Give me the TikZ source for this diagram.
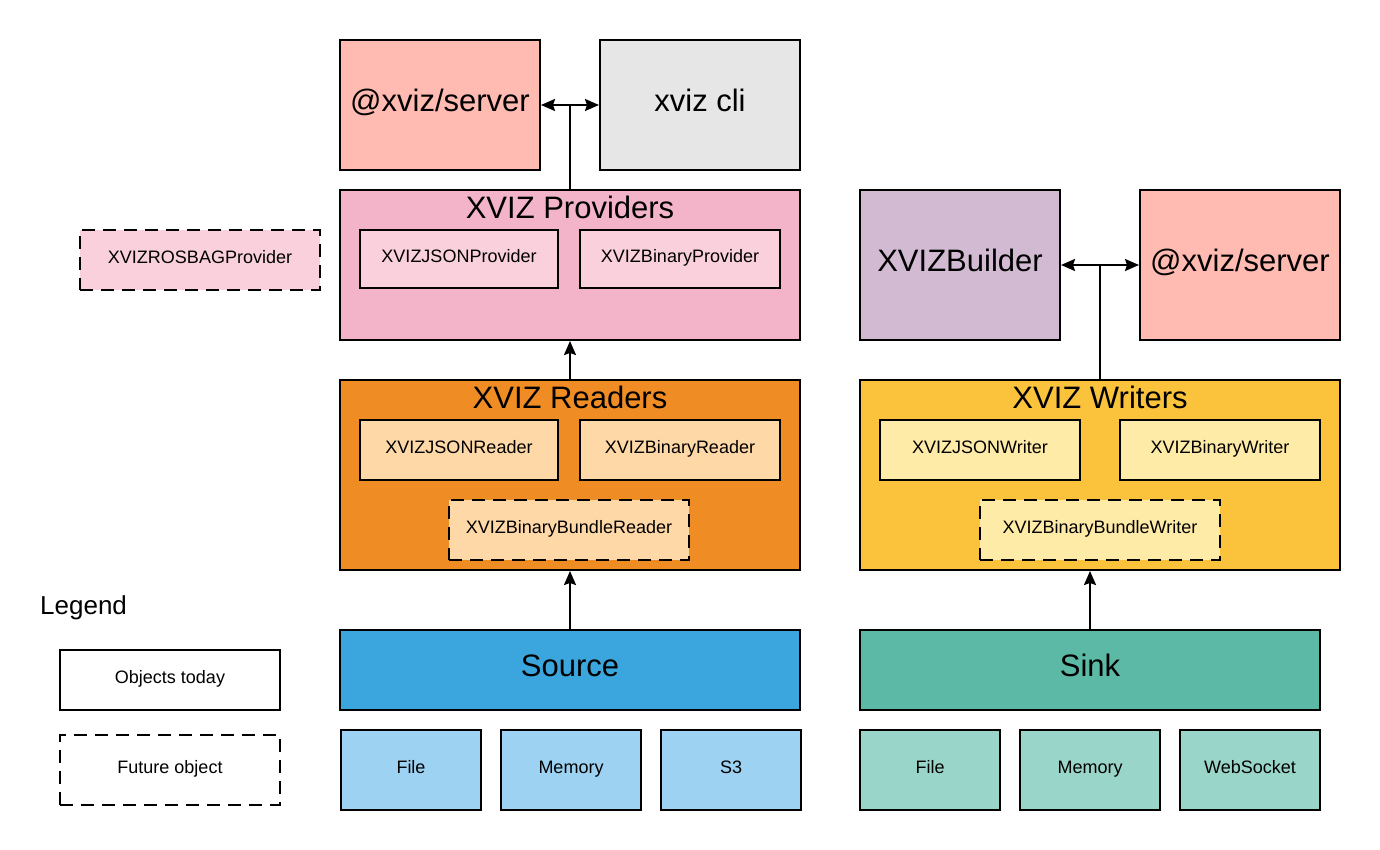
\documentclass[tikz,border=0pt]{standalone}
\usepackage{fontspec}
\setmainfont{Liberation Sans}
\usetikzlibrary{arrows.meta}
\definecolor{salmon}{HTML}{FFBBB1}
\definecolor{cligray}{HTML}{E6E6E6}
\definecolor{provpink}{HTML}{F3B3C8}
\definecolor{provlight}{HTML}{F9D0DC}
\definecolor{readorange}{HTML}{F08C24}
\definecolor{readlight}{HTML}{FFD8A8}
\definecolor{writeyellow}{HTML}{FBC33B}
\definecolor{writelight}{HTML}{FFEBA8}
\definecolor{buildlilac}{HTML}{D2BBD2}
\definecolor{sourceblue}{HTML}{3AA6DD}
\definecolor{sourcelight}{HTML}{9DD2F2}
\definecolor{sinkgreen}{HTML}{5BB9A6}
\definecolor{sinklight}{HTML}{9AD5C9}
\begin{document}
\begin{tikzpicture}[>={Stealth[length=14bp,width=12bp,inset=2bp]},line join=miter,
  box/.style={draw,line width=2bp,inner sep=0pt,text height=22bp,text depth=8bp,font=\fontsize{31bp}{37bp}\selectfont},
  small/.style={draw,line width=2bp,inner sep=0pt,text height=13bp,text depth=5bp,font=\fontsize{18bp}{21bp}\selectfont},
  future/.style={small,dash pattern=on 13bp off 8bp},
  title/.style={draw=none,inner sep=0pt,text height=22bp,text depth=8bp,font=\fontsize{31bp}{37bp}\selectfont},
  link/.style={line width=2bp}]
\useasboundingbox (0bp,0bp) rectangle (1380bp,850bp);
%% servers and providers
\node (server) at (440bp,745bp) [box,fill=salmon,minimum width=200bp,minimum height=130bp] {@xviz/server};
  \node (cli) at (700bp,745bp) [box,fill=cligray,minimum width=200bp,minimum height=130bp] {xviz cli};
  \node (providers) at (570bp,585bp) [box,fill=provpink,minimum width=460bp,minimum height=150bp] {};
  \node (providers title) at (570bp,638bp) [title] {XVIZ Providers};
  \node (JSONProvider) at (459bp,591bp) [small,fill=provlight,minimum width=198bp,minimum height=58bp] {XVIZJSONProvider};
  \node (BinaryProvider) at (680bp,591bp) [small,fill=provlight,minimum width=200bp,minimum height=58bp] {XVIZBinaryProvider};
  \node (ROSBAGProvider) at (200bp,590bp) [future,fill=provlight,minimum width=240bp,minimum height=60bp] {XVIZROSBAGProvider};
%% readers
\node (readers) at (570bp,375bp) [box,fill=readorange,minimum width=460bp,minimum height=190bp] {};
  \node (readers title) at (570bp,448bp) [title] {XVIZ Readers};
  \node (JSONReader) at (459bp,400bp) [small,fill=readlight,minimum width=198bp,minimum height=60bp] {XVIZJSONReader};
  \node (BinaryReader) at (680bp,400bp) [small,fill=readlight,minimum width=200bp,minimum height=60bp] {XVIZBinaryReader};
  \node (BundleReader) at (569bp,320bp) [future,fill=readlight,minimum width=240bp,minimum height=60bp] {XVIZBinaryBundleReader};
%% source
\node (source) at (570bp,180bp) [box,fill=sourceblue,minimum width=460bp,minimum height=80bp] {Source};
  \node (source file) at (411bp,80bp) [small,fill=sourcelight,minimum width=140bp,minimum height=80bp] {File};
  \node (source memory) at (571bp,80bp) [small,fill=sourcelight,minimum width=140bp,minimum height=80bp] {Memory};
  \node (source s3) at (731bp,80bp) [small,fill=sourcelight,minimum width=140bp,minimum height=80bp] {S3};
%% builder and writers
\node (builder) at (960bp,585bp) [box,fill=buildlilac,minimum width=200bp,minimum height=150bp] {XVIZBuilder};
  \node (server2) at (1240bp,585bp) [box,fill=salmon,minimum width=200bp,minimum height=150bp] {@xviz/server};
  \node (writers) at (1100bp,375bp) [box,fill=writeyellow,minimum width=480bp,minimum height=190bp] {};
  \node (writers title) at (1100bp,448bp) [title] {XVIZ Writers};
  \node (JSONWriter) at (980bp,400bp) [small,fill=writelight,minimum width=200bp,minimum height=60bp] {XVIZJSONWriter};
  \node (BinaryWriter) at (1220bp,400bp) [small,fill=writelight,minimum width=200bp,minimum height=60bp] {XVIZBinaryWriter};
  \node (BundleWriter) at (1100bp,320bp) [future,fill=writelight,minimum width=240bp,minimum height=60bp] {XVIZBinaryBundleWriter};
%% sink
\node (sink) at (1090bp,180bp) [box,fill=sinkgreen,minimum width=460bp,minimum height=80bp] {Sink};
  \node (sink file) at (930bp,80bp) [small,fill=sinklight,minimum width=140bp,minimum height=80bp] {File};
  \node (sink memory) at (1090bp,80bp) [small,fill=sinklight,minimum width=140bp,minimum height=80bp] {Memory};
  \node (sink websocket) at (1250bp,80bp) [small,fill=sinklight,minimum width=140bp,minimum height=80bp] {WebSocket};
%% legend
\node (legend) at (40bp,241bp) [anchor=west,draw=none,inner sep=0pt,text height=19bp,text depth=7bp,font=\fontsize{26bp}{31bp}\selectfont] {Legend};
  \node (today) at (170bp,170bp) [small,minimum width=220bp,minimum height=60bp] {Objects today};
  \node (future) at (170bp,80bp) [future,minimum width=220bp,minimum height=70bp] {Future object};
%% connectors
\coordinate (top split) at (570bp,745bp);
  \coordinate (builder split) at (1100bp,585bp);
  \draw [link] (providers.north) -- (top split);
  \draw [link,->] (top split) -- (server.east);
  \draw [link,->] (top split) -- (cli.west);
  \draw [link,->] (readers.north) -- (providers.south);
  \draw [link,->] (source.north) -- (readers.south);
  \draw [link] (writers.north) -- (builder split);
  \draw [link,->] (builder split) -- (builder.east);
  \draw [link,->] (builder split) -- (server2.west);
  \draw [link,->] (sink.north) -- (sink.north |- writers.south);
%
\end{tikzpicture}
\end{document}
